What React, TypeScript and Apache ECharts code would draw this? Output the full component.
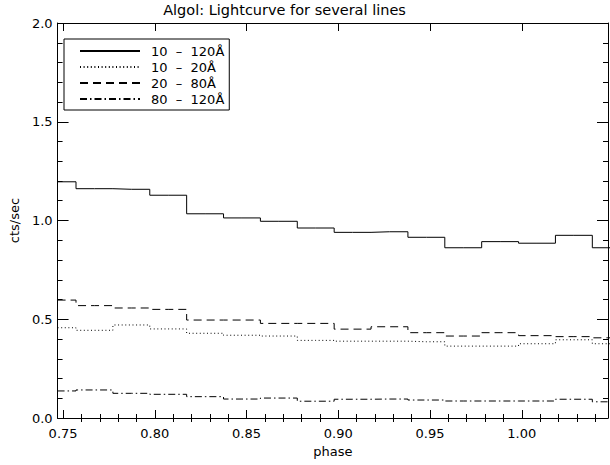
import React, { useEffect, useRef } from "react";
import * as echarts from "echarts";

const phase = [0.747, 0.7671, 0.7872, 0.8073, 0.8274, 0.8475, 0.8676, 0.8877, 0.9078, 0.9279, 0.948, 0.9681, 0.9882, 1.0083, 1.0284, 1.0485];
const line10to120 = [1.196, 1.161, 1.158, 1.128, 1.034, 1.013, 0.996, 0.962, 0.94, 0.943, 0.915, 0.862, 0.893, 0.885, 0.925, 0.862];
const line10to20 = [0.457, 0.444, 0.471, 0.451, 0.429, 0.419, 0.415, 0.393, 0.389, 0.389, 0.386, 0.364, 0.364, 0.376, 0.396, 0.376];
const line20to80 = [0.597, 0.569, 0.557, 0.55, 0.496, 0.496, 0.479, 0.479, 0.45, 0.462, 0.432, 0.415, 0.432, 0.417, 0.412, 0.406];
const line80to120 = [0.137, 0.142, 0.125, 0.12, 0.108, 0.096, 0.101, 0.085, 0.095, 0.096, 0.091, 0.086, 0.086, 0.086, 0.095, 0.082];

const seriesNames = [
  "10\u00a0\u00a0–\u00a0\u00a0120Å",
  "10\u00a0\u00a0–\u00a0\u00a020Å",
  "20\u00a0\u00a0–\u00a0\u00a080Å",
  "80\u00a0\u00a0–\u00a0\u00a0120Å",
];
const xMajorTicks = [0.75, 0.8, 0.85, 0.9, 0.95, 1.0];
const xMinorTicks = [0.76, 0.77, 0.78, 0.79, 0.81, 0.82, 0.83, 0.84, 0.86, 0.87, 0.88, 0.89, 0.91, 0.92, 0.93, 0.94, 0.96, 0.97, 0.98, 0.99, 1.01, 1.02, 1.03, 1.04];

const FONT = "DejaVu Sans";
const X_MIN = 0.747;
const X_MAX = 1.047;

export default function App() {
  const ref = useRef<HTMLDivElement>(null);
  useEffect(() => {
    if (!ref.current) return;
    const chart = echarts.init(ref.current, null, { renderer: "svg" });
    const pairs = (ys: number[]) => phase.map((x, i) => [x, ys[i]]);
    const dashes: (number[] | "solid")[] = ["solid", [1, 2.6], [8, 5], [7, 3, 1.5, 3]];
    const values = [line10to120, line10to20, line20to80, line80to120];

    const axisLine = { show: true, onZero: false, lineStyle: { color: "#000", width: 1 } };
    const baseX = { type: "value", min: X_MIN, max: X_MAX, splitLine: { show: false } };

    chart.setOption({
      animation: false,
      backgroundColor: "#fff",
      textStyle: { fontFamily: FONT },
      grid: { left: 54, right: 2, top: 23, bottom: 47, containLabel: false },
      graphic: [
        {
          type: "text",
          x: 284.5,
          y: 10,
          style: {
            text: "Algol: Lightcurve for several lines",
            textAlign: "center",
            textVerticalAlign: "middle",
            fontFamily: FONT,
            fontSize: 14.5,
            fill: "#000",
          },
        },
      ],
      legend: {
        show: true,
        orient: "vertical",
        left: 64,
        top: 39,
        data: seriesNames,
        selectedMode: false,
        itemWidth: 60,
        itemHeight: 12,
        itemGap: 0,
        padding: [4, 5, 3, 15],
        borderColor: "#000",
        borderWidth: 1,
        itemStyle: { opacity: 0 },
        textStyle: { fontFamily: FONT, fontSize: 13, lineHeight: 16, color: "#000", padding: [0, 0, 0, 6] },
      },
      xAxis: [
        {
          ...baseX,
          position: "bottom",
          name: "phase",
          nameLocation: "middle",
          nameGap: 17,
          nameTextStyle: { fontFamily: FONT, fontSize: 13, color: "#000" },
          axisLine,
          axisTick: { show: true, inside: true, length: 8, customValues: xMajorTicks, lineStyle: { color: "#000" } },
          axisLabel: {
            show: true,
            customValues: xMajorTicks,
            margin: 9,
            formatter: (v: number) => v.toFixed(2),
            fontFamily: FONT,
            fontSize: 13,
            color: "#000",
          },
        },
        {
          ...baseX,
          position: "bottom",
          axisLine: { show: false },
          axisTick: { show: true, inside: true, length: 4, customValues: xMinorTicks, lineStyle: { color: "#000" } },
          axisLabel: { show: false },
        },
        {
          ...baseX,
          position: "top",
          axisLine,
          axisTick: { show: true, inside: true, length: 8, customValues: xMajorTicks, lineStyle: { color: "#000" } },
          axisLabel: { show: false },
        },
        {
          ...baseX,
          position: "top",
          axisLine: { show: false },
          axisTick: { show: true, inside: true, length: 4, customValues: xMinorTicks, lineStyle: { color: "#000" } },
          axisLabel: { show: false },
        },
      ],
      yAxis: [
        {
          type: "value",
          position: "left",
          min: 0,
          max: 2,
          interval: 0.5,
          name: "cts/sec",
          nameLocation: "middle",
          nameRotate: 90,
          nameGap: 35,
          nameTextStyle: { fontFamily: FONT, fontSize: 13, color: "#000" },
          axisLine,
          axisTick: { show: true, inside: true, length: 11, lineStyle: { color: "#000" } },
          minorTick: { show: true, splitNumber: 5, length: 5, lineStyle: { color: "#000" } },
          axisLabel: {
            show: true,
            margin: 5,
            formatter: (v: number) => v.toFixed(1),
            fontFamily: FONT,
            fontSize: 13,
            color: "#000",
          },
          splitLine: { show: false },
        },
        {
          type: "value",
          position: "right",
          min: 0,
          max: 2,
          interval: 0.5,
          axisLine,
          axisTick: { show: true, inside: true, length: 11, lineStyle: { color: "#000" } },
          minorTick: { show: true, splitNumber: 5, length: 5, lineStyle: { color: "#000" } },
          axisLabel: { show: false },
          splitLine: { show: false },
        },
      ],
      series: values.map((ys, i) => ({
        name: seriesNames[i],
        type: "line",
        step: "middle",
        xAxisIndex: 0,
        yAxisIndex: 0,
        symbol: "none",
        showSymbol: false,
        data: pairs(ys),
        color: "#000",
        lineStyle: { color: "#000", width: 1, type: dashes[i] },
        clip: true,
      })),
    });
    return () => chart.dispose();
  }, []);
  return (
    <div
      ref={ref}
      style={{ position: "absolute", left: 0, top: 0, width: 610, height: 465, background: "#fff" }}
    />
  );
}
